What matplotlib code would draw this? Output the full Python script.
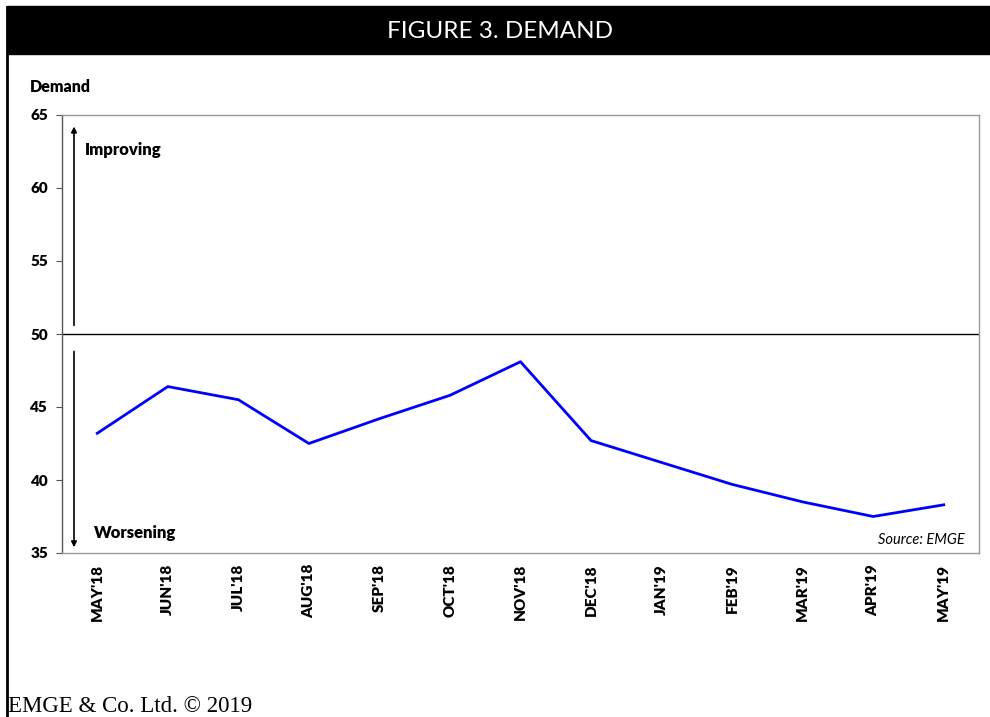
import matplotlib
matplotlib.use("Agg")
import matplotlib.pyplot as plt
from matplotlib.patches import Rectangle
from matplotlib.lines import Line2D

months = ["MAY'18", "JUN'18", "JUL'18", "AUG'18", "SEP'18", "OCT'18", "NOV'18",
          "DEC'18", "JAN'19", "FEB'19", "MAR'19", "APR'19", "MAY'19"]
demand = [43.2, 46.4, 45.5, 42.5, 44.2, 45.8, 48.1, 42.7, 41.2, 39.7, 38.5, 37.5, 38.3]
y_ticks = [35, 40, 45, 50, 55, 60, 65]

plt.rcParams['font.family'] = ['Lato', 'DejaVu Sans']
BOLD = 'heavy'

W, H = 990, 717
fig = plt.figure(figsize=(W / 100, H / 100), dpi=100)

# header bar + left border
fig.patches.append(Rectangle((7 / W, 1 - 54 / H), 1 - 7 / W, 48 / H,
                             transform=fig.transFigure, color='black'))
fig.lines.append(Line2D([7 / W, 7 / W], [0, 1 - 7 / H], transform=fig.transFigure,
                        color='black', lw=2))
fig.text(0.505, 1 - 31 / H, "FIGURE 3. DEMAND", color='white', fontsize=17.5,
         ha='center', va='center')
fig.text(30 / W, 1 - 87 / H, "Demand", fontsize=11.5, fontweight=BOLD, va='center')
fig.text(8 / W, 1 - 707 / H, "EMGE & Co. Ltd. © 2019", fontsize=16.5,
         family='Liberation Serif', va='center')

ax = fig.add_axes([62 / W, 1 - 553 / H, (979 - 62) / W, (553 - 115) / H])
x = list(range(len(months)))
ax.plot(x, demand, color='#0000ff', lw=2)
ax.axhline(50, color='black', lw=1)
ax.set_xlim(-0.5, len(months) - 0.5)
ax.set_ylim(35, 65)
ax.set_yticks(y_ticks)
ax.set_yticklabels([str(v) for v in y_ticks], fontsize=11, fontweight=BOLD)
ax.set_xticks(x)
ax.set_xticklabels(months, rotation=90, fontsize=11, fontweight=BOLD)
ax.tick_params(axis='x', length=0, pad=8)
ax.tick_params(axis='y', length=4, color='#555555', pad=6)
for s in ax.spines.values():
    s.set_color('#999999')
    s.set_linewidth(1)
ax.spines['left'].set_color('#555555')

# direction arrows
ax.annotate('', xy=(-0.33, 64.4), xytext=(-0.33, 50.4),
            arrowprops=dict(arrowstyle='-|>', color='black', lw=1.2, mutation_scale=8))
ax.annotate('', xy=(-0.33, 35.2), xytext=(-0.33, 49.0),
            arrowprops=dict(arrowstyle='-|>', color='black', lw=1.2, mutation_scale=8))
ax.text(-0.18, 62.6, "Improving", fontsize=12, fontweight=BOLD, va='center')
ax.text(-0.05, 36.4, "Worsening", fontsize=12, fontweight=BOLD, va='center')
ax.text(12.3, 35.9, "Source: EMGE", fontsize=10.5, style='italic', ha='right', va='center')

fig.savefig("out.png", dpi=100)
